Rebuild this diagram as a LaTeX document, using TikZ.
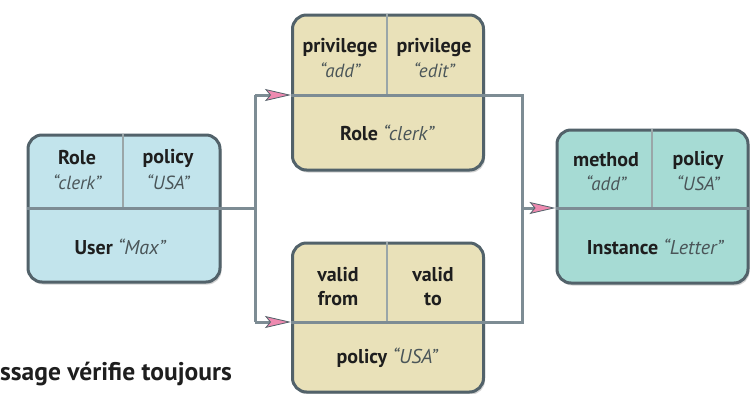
\documentclass[tikz,border=0pt]{standalone}
\usepackage{fontspec}
\setmainfont{PT Sans}
\usetikzlibrary{arrows.meta,shadows}
\definecolor{userblue}{HTML}{C2E4EC}
\definecolor{tanbox}{HTML}{E9E1B9}
\definecolor{tealbox}{HTML}{A6DBD4}
\definecolor{bordergray}{HTML}{52626A}
\definecolor{linegray}{HTML}{7D8C94}
\definecolor{divgray}{HTML}{9AA6A8}
\definecolor{arrowpink}{HTML}{EE8AB0}
\definecolor{quotegray}{HTML}{4A5558}
\definecolor{textblack}{HTML}{1E1E1E}
\tikzset{
  card/.style={draw=bordergray, line width=3pt, rounded corners=14pt,
    drop shadow={opacity=0.35, shadow xshift=1.5pt, shadow yshift=-2.5pt}},
  conn/.style={draw=linegray, line width=3pt},
  divv/.style={draw=divgray, line width=1.6pt},
  pinktip/.style={-{Stealth[length=26pt,width=12pt,inset=5pt,fill=arrowpink,color=bordergray,line width=0.8pt]}},
  lbl/.style={font=\bfseries\fontsize{20}{22}\selectfont, text=textblack, inner sep=0pt},
  qt/.style={font=\itshape\fontsize{19}{21}\selectfont, text=quotegray, inner sep=0pt},
  bottomtext/.style={font=\bfseries\fontsize{25.5}{28}\selectfont, text=textblack, inner sep=0pt}
}
\begin{document}
\begin{tikzpicture}[x=1pt,y=-1pt]
\useasboundingbox (0,0) rectangle (756,394);
\fill[white] (0,0) rectangle (756,394);
% boxes
\node[card, fill=userblue, minimum width=192pt, minimum height=147pt] (user) at (124,208.5) {};
\node[card, fill=tanbox, minimum width=191pt, minimum height=155pt] (role) at (388,92.5) {};
\node[card, fill=tanbox, minimum width=191pt, minimum height=149pt] (policy) at (388,317.5) {};
\node[card, fill=tealbox, minimum width=191pt, minimum height=153pt] (inst) at (652.5,206.5) {};
% vertical dividers
\draw[divv] (user.north -| 123,0) -- (123,208);
\draw[divv] (role.north -| 387,0) -- (387,95);
\draw[divv] (policy.north -| 387,0) -- (387,322);
\draw[divv] (inst.north -| 652,0) -- (652,208);
% junction coordinates
\coordinate (jl) at (255,208);
\coordinate (jlt) at (255,95);
\coordinate (jlb) at (255,322);
\coordinate (jrt) at (522,95);
\coordinate (jrb) at (522,322);
\coordinate (jr) at (522,208);
% connectors and dividers
\draw[conn] (user.west |- jl) -- (jl);
\draw[conn] (jlt) -- (jlb);
\draw[conn, pinktip] (jlt) -- (role.west |- jlt);
\draw[conn, pinktip] (jlb) -- (policy.west |- jlb);
\draw[conn] (role.west |- jlt) -- (jrt) -- (jrb) -- (policy.west |- jrb);
\draw[conn, pinktip] (jr) -- (inst.west |- jr);
\draw[conn] (inst.west |- jr) -- (inst.east |- jr);
% texts
\node[lbl] (t1) at (77,158) {Role};
\node[qt] (t2) at (77,182) {“clerk”};
\node[lbl] (t3) at (168,158) {policy};
\node[qt] (t4) at (168,182) {“USA”};
\node[lbl] (t5) at (120,247) {User \textmd{\itshape\color{quotegray}“Max”}};

\node[lbl] (r1) at (340,48) {privilege};
\node[qt] (r2) at (340,70) {“add”};
\node[lbl] (r3) at (434,48) {privilege};
\node[qt] (r4) at (434,70) {“edit”};
\node[lbl] (r5) at (387,133) {Role \textmd{\itshape\color{quotegray}“clerk”}};

\node[lbl] (p1) at (338,275) {valid};
\node[lbl] (p2) at (338,299) {from};
\node[lbl] (p3) at (433,275) {valid};
\node[lbl] (p4) at (433,299) {to};
\node[lbl] (p5) at (387,358) {policy \textmd{\itshape\color{quotegray}“USA”}};

\node[lbl] (i1) at (606,160) {method};
\node[qt] (i2) at (606,183) {“add”};
\node[lbl] (i3) at (698,160) {policy};
\node[qt] (i4) at (698,183) {“USA”};
\node[lbl] (i5) at (655,247) {Instance \textmd{\itshape\color{quotegray}“Letter”}};

\node[bottomtext, anchor=base west] (bt) at (0,380) {ssage vérifie toujours};
\end{tikzpicture}
\end{document}
